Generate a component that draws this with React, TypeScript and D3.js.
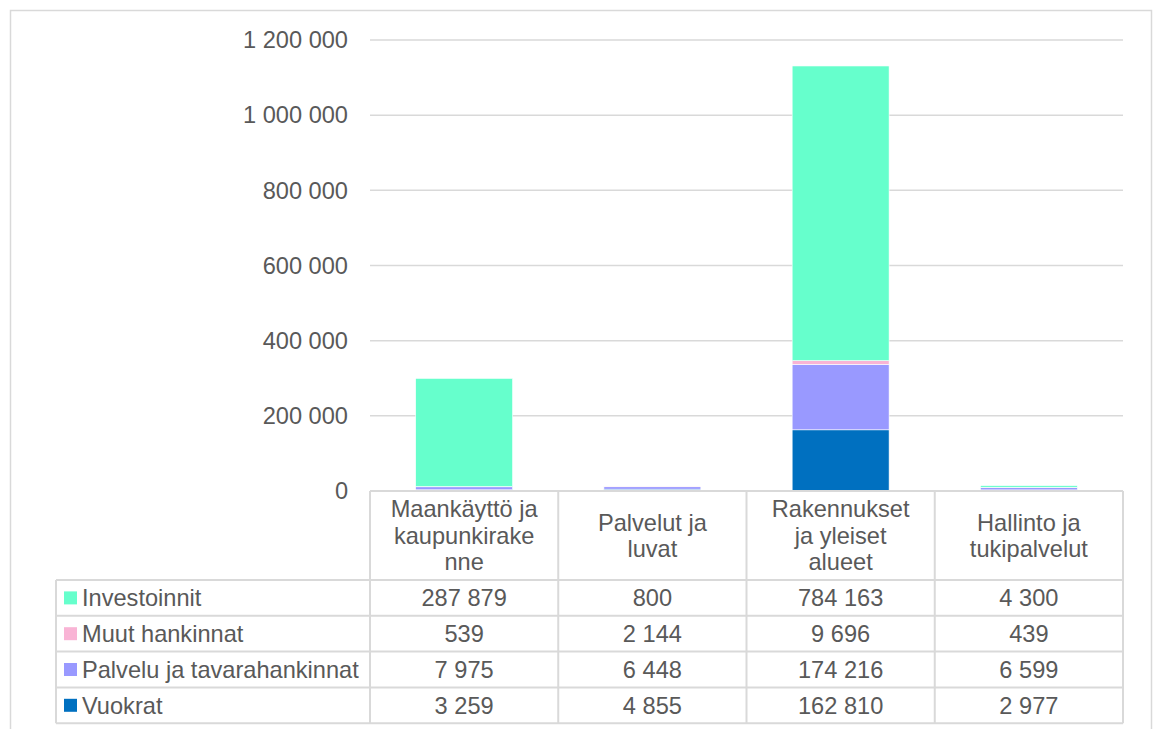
import { useEffect, useRef } from "react";
import * as d3 from "d3";

const categories = [
  "Maankäyttö ja kaupunkirakenne",
  "Palvelut ja luvat",
  "Rakennukset ja yleiset alueet",
  "Hallinto ja tukipalvelut",
];
// wrapped header lines as in the picture
const categoryLines = [
  ["Maankäyttö ja", "kaupunkirake", "nne"],
  ["Palvelut ja", "luvat"],
  ["Rakennukset", "ja yleiset", "alueet"],
  ["Hallinto ja", "tukipalvelut"],
];

const seriesNames = ["Vuokrat", "Palvelu ja tavarahankinnat", "Muut hankinnat", "Investoinnit"];
const vuokrat = [3259, 4855, 162810, 2977];
const palvelu = [7975, 6448, 174216, 6599];
const muut = [539, 2144, 9696, 439];
const investoinnit = [287879, 800, 784163, 4300];
const seriesColors = ["#0070C0", "#9999FF", "#F9B4D5", "#66FFCC"];

const yTicks = [0, 200000, 400000, 600000, 800000, 1000000, 1200000];

export default function App() {
  const ref = useRef<SVGSVGElement>(null);

  useEffect(() => {
    if (!ref.current) return;
    const svg = d3.select(ref.current);
    svg.selectAll("*").remove();

    const W = 1157;
    const H = 729;
    const plot = { left: 370, right: 1123, top: 40, bottom: 491 };
    const table = { left: 56, headerBottom: 580, rowH: 35.8 };
    const grid = "#d9d9d9";
    const text = "#595959";
    const font = "'Liberation Sans', Arial, sans-serif";
    const fs = 23.6;
    const fmt = (v: number) => d3.format(",")(v).replace(/,/g, " ");

    svg.attr("width", W).attr("height", H);

    // outer chart border
    svg.append("rect")
      .attr("x", 10.5).attr("y", 10.5)
      .attr("width", 1141).attr("height", 740)
      .attr("fill", "none").attr("stroke", grid).attr("stroke-width", 1.5);

    const series = seriesNames.map((name, i) => ({
      name,
      values: [vuokrat, palvelu, muut, investoinnit][i],
      color: seriesColors[i],
    }));

    const rows = categories.map((c, j) => {
      const r: any = { cat: c };
      series.forEach(s => (r[s.name] = s.values[j]));
      return r;
    });

    const x = d3.scaleBand<string>()
      .domain(categories)
      .range([plot.left, plot.right])
      .paddingInner(0.485)
      .paddingOuter(0.2425);

    const col = d3.scaleBand<string>()
      .domain(categories)
      .range([plot.left, plot.right]);

    const y = d3.scaleLinear()
      .domain([0, 1200000])
      .range([plot.bottom, plot.top]);

    // gridlines
    svg.append("g")
      .selectAll("line")
      .data(yTicks.slice(1))
      .join("line")
      .attr("x1", plot.left).attr("x2", plot.right)
      .attr("y1", d => y(d)).attr("y2", d => y(d))
      .attr("stroke", grid).attr("stroke-width", 1.5);

    // y labels
    svg.append("g")
      .selectAll("text")
      .data(yTicks)
      .join("text")
      .attr("x", 348)
      .attr("y", d => y(d))
      .attr("dy", "0.35em")
      .attr("text-anchor", "end")
      .attr("font-family", font)
      .attr("font-size", fs)
      .attr("fill", text)
      .text(d => fmt(d));

    // stacked bars
    const stack = d3.stack<any>().keys(seriesNames);
    const stacked = stack(rows);

    svg.append("g")
      .selectAll("g")
      .data(stacked)
      .join("g")
      .attr("fill", (_, i) => seriesColors[i])
      .selectAll("rect")
      .data(d => d)
      .join("rect")
      .attr("x", d => x(d.data.cat) || 0)
      .attr("width", x.bandwidth())
      .attr("y", d => y(d[1]))
      .attr("height", d => y(d[0]) - y(d[1]))
      .attr("stroke", "#ffffff")
      .attr("stroke-width", 0.6);

    // data table
    const tg = svg.append("g");
    const tableRows = [...series].reverse();
    const rowTop = (i: number) => table.headerBottom + i * table.rowH;
    const tableBottom = rowTop(tableRows.length);

    // horizontal lines
    tg.append("line")
      .attr("x1", plot.left).attr("x2", plot.right)
      .attr("y1", plot.bottom).attr("y2", plot.bottom)
      .attr("stroke", grid).attr("stroke-width", 2);
    for (let i = 0; i <= tableRows.length; i++) {
      tg.append("line")
        .attr("x1", table.left).attr("x2", plot.right)
        .attr("y1", rowTop(i)).attr("y2", rowTop(i))
        .attr("stroke", grid).attr("stroke-width", 2);
    }
    // vertical lines
    tg.append("line")
      .attr("x1", table.left).attr("x2", table.left)
      .attr("y1", table.headerBottom).attr("y2", tableBottom)
      .attr("stroke", grid).attr("stroke-width", 2);
    const colEdges = [...categories.map(c => col(c) || 0), plot.right];
    tg.selectAll(".vline")
      .data(colEdges)
      .join("line")
      .attr("class", "vline")
      .attr("x1", d => d).attr("x2", d => d)
      .attr("y1", plot.bottom).attr("y2", tableBottom)
      .attr("stroke", grid).attr("stroke-width", 2);

    // header labels
    categories.forEach((c, j) => {
      const lines = categoryLines[j];
      const cx = (col(c) || 0) + col.bandwidth() / 2;
      const lh = 26.5;
      const mid = (plot.bottom + table.headerBottom) / 2;
      const first = mid - ((lines.length - 1) * lh) / 2;
      const t = tg.append("text")
        .attr("text-anchor", "middle")
        .attr("font-family", font)
        .attr("font-size", fs)
        .attr("fill", text);
      lines.forEach((l, k) => {
        t.append("tspan")
          .attr("x", cx)
          .attr("y", first + k * lh)
          .attr("dy", "0.35em")
          .text(l);
      });
    });

    // row labels with legend keys + values
    tableRows.forEach((s, i) => {
      const cy = rowTop(i) + table.rowH / 2;
      tg.append("rect")
        .attr("x", 64).attr("y", cy - 6.5)
        .attr("width", 13).attr("height", 13)
        .attr("fill", s.color);
      tg.append("text")
        .attr("x", 82).attr("y", cy).attr("dy", "0.35em")
        .attr("font-family", font).attr("font-size", fs)
        .attr("fill", text)
        .text(s.name);
      categories.forEach((c, j) => {
        tg.append("text")
          .attr("x", (col(c) || 0) + col.bandwidth() / 2)
          .attr("y", cy).attr("dy", "0.35em")
          .attr("text-anchor", "middle")
          .attr("font-family", font).attr("font-size", fs)
          .attr("fill", text)
          .text(fmt(s.values[j]));
      });
    });
  }, []);

  return (
    <div style={{ position: "fixed", left: 0, top: 0, background: "#fff" }}>
      <svg ref={ref} style={{ display: "block" }}></svg>
    </div>
  );
}
